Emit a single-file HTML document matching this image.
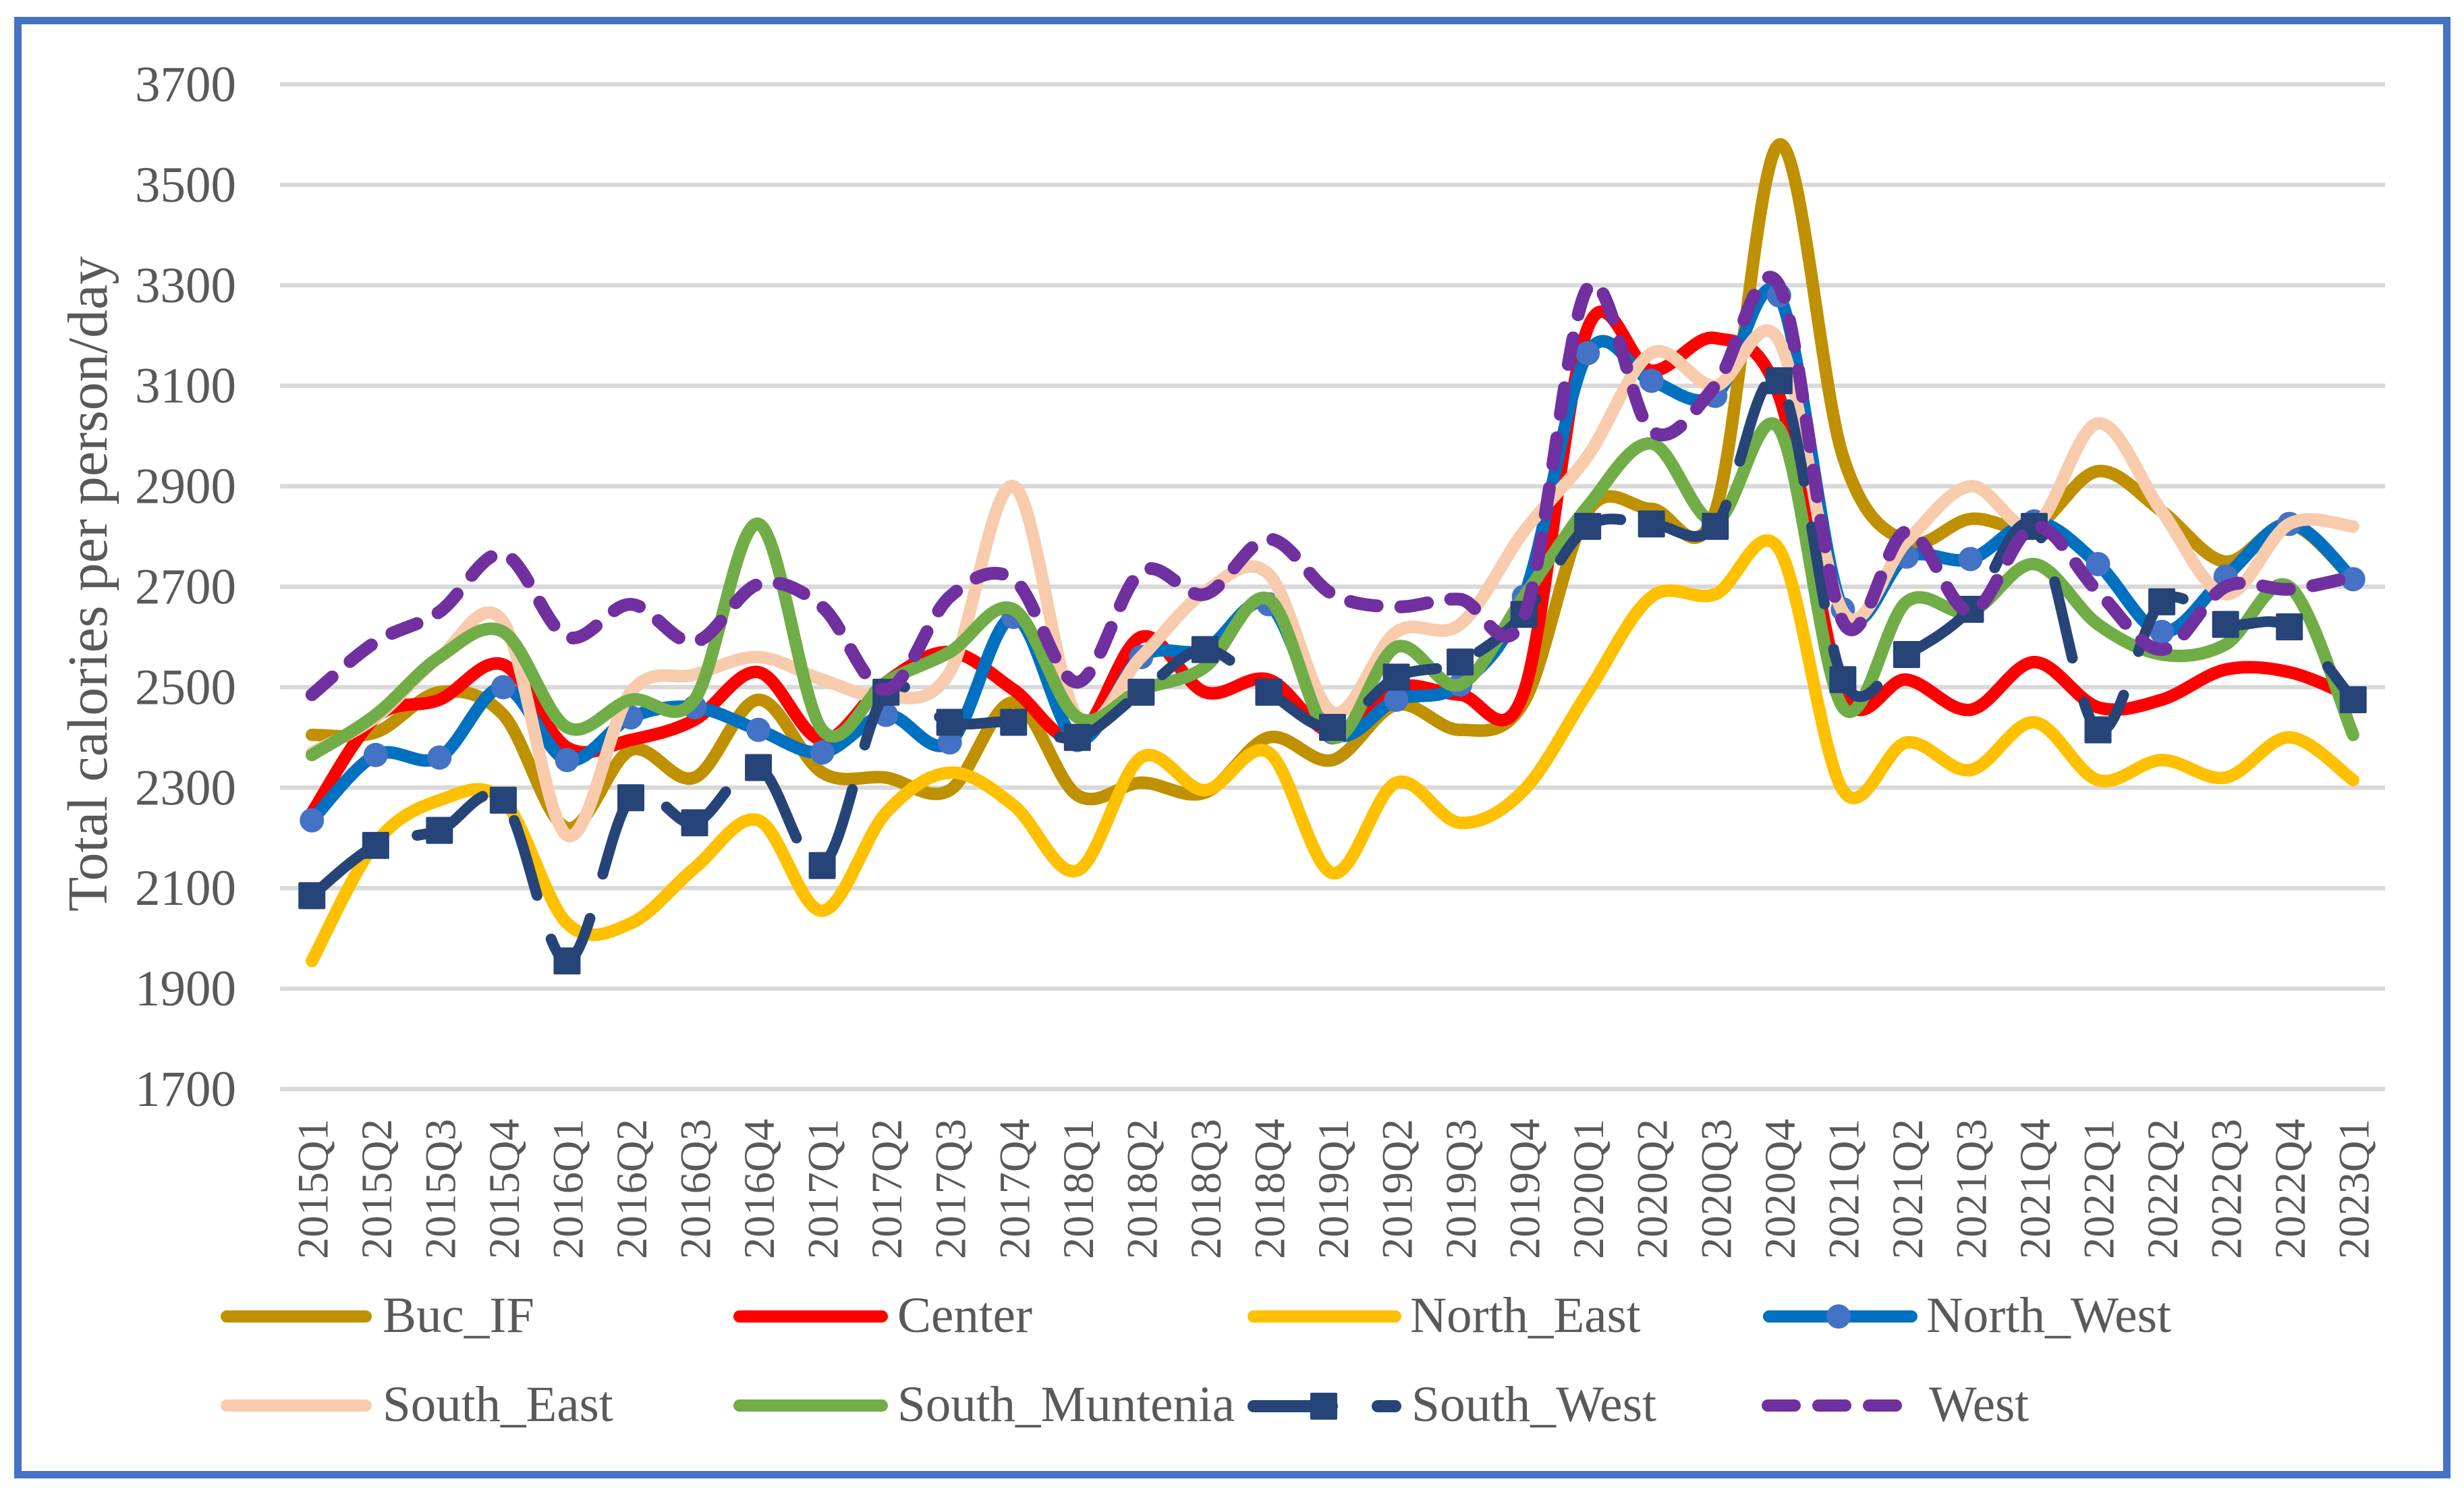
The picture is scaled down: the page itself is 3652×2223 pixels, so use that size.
<!DOCTYPE html>
<html lang="en">
<head>
<meta charset="utf-8">
<title>Total calories per person/day by region</title>
<style>
html,body{margin:0;padding:0;background:#fff;}
svg{display:block;}
text{font-family:"Liberation Serif",serif;fill:#595959;}
</style>
</head>
<body>
<svg id="chart" xmlns="http://www.w3.org/2000/svg" width="3652" height="2223" viewBox="0 0 3652 2223">
  <rect x="0" y="0" width="3652" height="2223" fill="#fff"/>
  <rect x="26.5" y="30.5" width="3600" height="2155" fill="#fff" stroke="#4472C4" stroke-width="11"/>
  <g id="grid"></g>
  <g id="yticks"></g>
  <g id="xticks"></g>
  <text transform="translate(158,1351) rotate(-90)" font-size="84">Total calories per person/day</text>
  <g id="series"></g>
  <g id="legend">
    <g>
      <line x1="336" y1="1951" x2="542" y2="1951" stroke="#BF9000" stroke-width="18" stroke-linecap="round"/>
      <text x="567" y="1974" font-size="75">Buc_IF</text>
    </g>
    <g>
      <line x1="1096" y1="1951" x2="1307" y2="1951" stroke="#FF0000" stroke-width="18" stroke-linecap="round"/>
      <text x="1330" y="1974" font-size="75">Center</text>
    </g>
    <g>
      <line x1="1858" y1="1951" x2="2068" y2="1951" stroke="#FFC000" stroke-width="18" stroke-linecap="round"/>
      <text x="2090" y="1974" font-size="75">North_East</text>
    </g>
    <g>
      <line x1="2622" y1="1951" x2="2833" y2="1951" stroke="#0070C0" stroke-width="18" stroke-linecap="round"/>
      <circle cx="2725" cy="1951" r="18" fill="#4472C4"/>
      <text x="2855" y="1974" font-size="75.5">North_West</text>
    </g>
    <g>
      <line x1="336" y1="2083" x2="542" y2="2083" stroke="#F8CBAD" stroke-width="18" stroke-linecap="round"/>
      <text x="567" y="2106" font-size="75">South_East</text>
    </g>
    <g>
      <line x1="1096" y1="2083" x2="1307" y2="2083" stroke="#70AD47" stroke-width="18" stroke-linecap="round"/>
      <text x="1330" y="2106" font-size="75">South_Muntenia</text>
    </g>
    <g>
      <line x1="1858" y1="2084" x2="2068" y2="2084" stroke="#264478" stroke-width="18" stroke-linecap="round" stroke-dasharray="116 68"/>
      <rect x="1942" y="2064" width="40" height="40" rx="2" fill="#264478"/>
      <text x="2092" y="2106" font-size="75.5">South_West</text>
    </g>
    <g>
      <line x1="2620" y1="2083" x2="2810" y2="2083" stroke="#7030A0" stroke-width="18" stroke-linecap="round" stroke-dasharray="40 35"/>
      <text x="2859" y="2106" font-size="75">West</text>
    </g>
  </g>
</svg>
<script>
const categories = ["2015Q1","2015Q2","2015Q3","2015Q4","2016Q1","2016Q2","2016Q3","2016Q4","2017Q1","2017Q2","2017Q3","2017Q4","2018Q1","2018Q2","2018Q3","2018Q4","2019Q1","2019Q2","2019Q3","2019Q4","2020Q1","2020Q2","2020Q3","2020Q4","2021Q1","2021Q2","2021Q3","2021Q4","2022Q1","2022Q2","2022Q3","2022Q4","2023Q1"];
const yTicks = [3700,3500,3300,3100,2900,2700,2500,2300,2100,1900,1700];
const bucIF = [2405,2410,2490,2445,2220,2375,2320,2475,2330,2320,2295,2470,2285,2310,2290,2400,2355,2465,2415,2470,2850,2855,2850,3580,2960,2790,2835,2820,2930,2850,2750,2825,2715];
const center = [2250,2440,2475,2545,2380,2395,2435,2530,2395,2510,2570,2495,2400,2600,2490,2515,2410,2500,2485,2490,3215,3130,3195,3080,2490,2515,2455,2550,2460,2475,2535,2530,2480];
const northEast = [1955,2190,2275,2275,2030,2030,2140,2235,2055,2250,2330,2265,2135,2360,2295,2370,2130,2310,2230,2295,2490,2680,2685,2775,2295,2390,2335,2430,2315,2355,2320,2400,2315];
const northWest = [2235,2365,2360,2500,2355,2440,2460,2415,2370,2445,2390,2640,2395,2560,2575,2665,2410,2475,2505,2680,3165,3110,3080,3280,2655,2760,2755,2830,2745,2610,2720,2825,2715];
const southEast = [2370,2440,2560,2630,2205,2490,2525,2560,2515,2480,2530,2900,2440,2560,2690,2725,2450,2610,2625,2810,2960,3165,3100,3190,2650,2790,2900,2820,3025,2850,2685,2825,2820];
const southMuntenia = [2365,2445,2560,2610,2420,2475,2475,2825,2415,2510,2570,2655,2440,2495,2540,2675,2400,2580,2505,2680,2860,2985,2830,3015,2460,2670,2650,2745,2625,2565,2585,2700,2405];
const southWest = [2085,2185,2215,2275,1955,2280,2230,2340,2145,2490,2430,2430,2400,2490,2575,2490,2420,2520,2550,2645,2820,2825,2820,3110,2515,2565,2655,2820,2415,2670,2625,2620,2475];
const west = [2485,2590,2650,2765,2600,2665,2590,2705,2660,2495,2680,2715,2510,2730,2685,2795,2685,2660,2675,2640,3295,3010,3100,3300,2630,2810,2650,2820,2690,2575,2700,2695,2720];

const NS = "http://www.w3.org/2000/svg";
const plotLeft = 415, plotRight = 3535, plotTop = 125, plotBottom = 1614;
const yMin = 1700, yMax = 3700;
const band = (plotRight - plotLeft) / categories.length;
function xScale(i){ return plotLeft + band * (i + 0.5); }
function yScale(v){ return plotBottom - (v - yMin) / (yMax - yMin) * (plotBottom - plotTop); }
function mk(tag, attrs, parent){
  const el = document.createElementNS(NS, tag);
  for (const k in attrs) el.setAttribute(k, attrs[k]);
  parent.appendChild(el);
  return el;
}
function smoothPath(vals){
  const pts = vals.map((v,i)=>[xScale(i), yScale(v)]);
  let d = "M" + pts[0][0].toFixed(1) + " " + pts[0][1].toFixed(1);
  for (let i = 0; i < pts.length - 1; i++){
    const p0 = pts[Math.max(i-1,0)], p1 = pts[i], p2 = pts[i+1], p3 = pts[Math.min(i+2,pts.length-1)];
    const c1x = p1[0] + (p2[0]-p0[0])/6, c1y = p1[1] + (p2[1]-p0[1])/6;
    const c2x = p2[0] - (p3[0]-p1[0])/6, c2y = p2[1] - (p3[1]-p1[1])/6;
    d += " C" + c1x.toFixed(1) + " " + c1y.toFixed(1) + " " + c2x.toFixed(1) + " " + c2y.toFixed(1) + " " + p2[0].toFixed(1) + " " + p2[1].toFixed(1);
  }
  return d;
}

const gridG = document.getElementById("grid");
const yG = document.getElementById("yticks");
yTicks.forEach(function(t){
  const ln = mk("line", {x1:plotLeft, x2:plotRight, y1:yScale(t), y2:yScale(t), stroke:"#D9D9D9", "stroke-width":6.5}, gridG);
  
  
  const tx = mk("text", {x:350, y:yScale(t)+25, "text-anchor":"end", "font-size":75}, yG);
  tx.textContent = t;
  
  
});

const xG = document.getElementById("xticks");
categories.forEach(function(c,i){
  const tx = mk("text", {transform:"translate(" + (xScale(i)+23) + ",1866) rotate(-90)", "font-size":64.5}, xG);
  tx.textContent = c;
  
  
});

const sG = document.getElementById("series");
function drawLine(vals, color, width, dash, name){
  const p = mk("path", {d:smoothPath(vals), fill:"none", stroke:color, "stroke-width":width, "stroke-linecap":"round", "stroke-linejoin":"round"}, sG);
  if (dash) p.setAttribute("stroke-dasharray", dash);
  
  
}
drawLine(bucIF, "#BF9000", 18.5, null, "line-buc-if");
drawLine(center, "#FF0000", 18.5, null, "line-center");
drawLine(northEast, "#FFC000", 18.5, null, "line-north-east");
drawLine(northWest, "#0070C0", 18.5, null, "line-north-west");
northWest.forEach(function(v,i){
  const m = mk("circle", {cx:xScale(i), cy:yScale(v), r:18, fill:"#4472C4"}, sG);
  
  
});
drawLine(southEast, "#F8CBAD", 18.5, null, "line-south-east");
drawLine(southMuntenia, "#70AD47", 18.5, null, "line-south-muntenia");
drawLine(southWest, "#264478", 16, "116 68", "line-south-west");
southWest.forEach(function(v,i){
  const m = mk("rect", {x:xScale(i)-20, y:yScale(v)-20, width:40, height:40, rx:2, fill:"#264478"}, sG);
  
  
});
drawLine(west, "#7030A0", 19, "40 35", "line-west");
</script>
</body>
</html>
